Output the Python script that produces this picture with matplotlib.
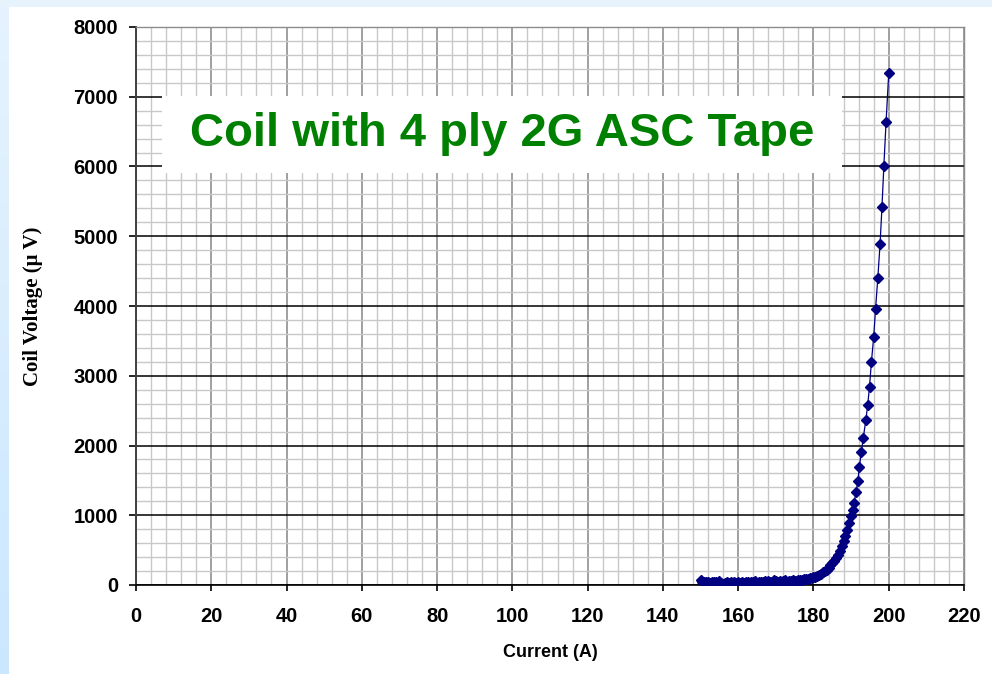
import matplotlib
matplotlib.use("Agg")
import matplotlib.pyplot as plt
import numpy as np
from matplotlib.patches import Rectangle
from matplotlib.ticker import MultipleLocator

# ── data (current in A, coil voltage in µV) ──
current = [
    150.0, 150.5, 151.0, 151.5, 152.0, 152.5, 153.0, 153.5, 154.0, 154.5,
    155.0, 155.5, 156.0, 156.5, 157.0, 157.5, 158.0, 158.5, 159.0, 159.5,
    160.0, 160.5, 161.0, 161.5, 162.0, 162.5, 163.0, 163.5, 164.0, 164.5,
    165.0, 165.5, 166.0, 166.5, 167.0, 167.5, 168.0, 168.5, 169.0, 169.5,
    170.0, 170.5, 171.0, 171.5, 172.0, 172.5, 173.0, 173.5, 174.0, 174.5,
    175.0, 175.5, 176.0, 176.5, 177.0, 177.5, 178.0, 178.5, 179.0, 179.5,
    180.0, 180.5, 181.0, 181.5, 182.0, 182.5, 183.0, 183.5, 184.0, 184.5,
    185.0, 185.5, 186.0, 186.5, 187.0, 187.5, 188.0, 188.5, 189.0, 189.5,
    190.0, 190.4, 190.8, 191.3, 191.8, 192.2, 192.7, 193.25, 193.9, 194.4,
    194.9, 195.4, 196.0, 196.5, 197.1, 197.7, 198.2, 198.7, 199.3, 200.0,
]
voltage = [
    65, 45, 50, 40, 45, 35, 45, 40, 50, 35,
    55, 30, 20, 35, 45, 25, 40, 30, 45, 35,
    40, 30, 45, 35, 50, 40, 35, 45, 40, 55,
    35, 50, 45, 40, 55, 45, 60, 50, 45, 70,
    55, 45, 60, 50, 55, 65, 50, 60, 55, 65,
    60, 55, 70, 65, 75, 80, 85, 90, 95, 100,
    110, 118, 128, 142, 160, 180, 200, 222, 250, 280,
    315, 350, 390, 435, 490, 560, 630, 700, 790, 890,
    990, 1070, 1180, 1330, 1490, 1690, 1900, 2110, 2360, 2575,
    2845, 3200, 3550, 3960, 4400, 4890, 5415, 6000, 6645, 7335,
]

x_ticks = list(range(0, 221, 20))
y_ticks = list(range(0, 8001, 1000))

title_text = "Coil with 4 ply 2G ASC Tape"
x_label = "Current (A)"
y_label = "Coil Voltage (\u03bc V)"

W, H = 992, 674
fig = plt.figure(figsize=(W / 100, H / 100), dpi=100)
fig.patch.set_facecolor("white")

# light blue slide border on the left and top
strip = fig.add_axes([0, 0, 9 / W, 1])
strip.imshow(np.linspace(0, 1, 100).reshape(-1, 1), aspect="auto",
             cmap=matplotlib.colors.LinearSegmentedColormap.from_list(
                 "edge", ["#e6f3fd", "#cbe7ff"]))
strip.axis("off")
fig.patches.append(Rectangle((0, 1 - 7 / H), 1, 7 / H, transform=fig.transFigure,
                             facecolor="#e6f3fd", edgecolor="none", zorder=-1))

ax = fig.add_axes([136 / W, 1 - 585 / H, 828 / W, 558 / H])

ax.plot(current, voltage, color="#000080", lw=0.9, marker="D",
        markersize=4.8, markerfacecolor="#000080", markeredgecolor="#000080",
        zorder=3)

ax.set_xlim(0, 220)
ax.set_ylim(0, 8000)
ax.set_xticks(x_ticks)
ax.set_yticks(y_ticks)
ax.xaxis.set_minor_locator(MultipleLocator(4))
ax.yaxis.set_minor_locator(MultipleLocator(200))

ax.set_axisbelow(True)
ax.grid(which="minor", color="#c8c8c8", lw=1.0)
ax.grid(which="major", axis="x", color="#a0a0a0", lw=1.4)
ax.grid(which="major", axis="y", color="#000000", lw=1.1)

for side in ("top", "right"):
    ax.spines[side].set_color("#8c8c8c")
    ax.spines[side].set_linewidth(1.0)
ax.spines["left"].set_color("#404040")
ax.spines["left"].set_linewidth(1.4)
ax.spines["bottom"].set_color("#000000")
ax.spines["bottom"].set_linewidth(1.2)

tick_font = {"family": "Liberation Sans", "weight": "bold", "size": 14.5}
ax.set_xticklabels([str(t) for t in x_ticks], fontdict=tick_font)
ax.set_yticklabels([str(t) for t in y_ticks], fontdict=tick_font)
ax.tick_params(axis="x", which="major", length=4, width=1.2, color="#000000", pad=12)
ax.tick_params(axis="y", which="major", length=5, width=1.2, color="#000000", pad=8)
ax.tick_params(which="minor", length=0)

ax.set_xlabel(x_label, family="Liberation Sans", weight="bold", fontsize=13,
              labelpad=13)
ax.set_ylabel(y_label, family="Liberation Serif", weight="bold", fontsize=15,
              labelpad=22)

# white box holding the chart title, hiding the grid beneath it
ax.add_patch(Rectangle((26 / 828, (585 - 173) / 558), 680 / 828, 77 / 558,
                       transform=ax.transAxes, facecolor="white",
                       edgecolor="none", zorder=2))
ax.text((502 - 136) / 828, (585 - 134) / 558, title_text,
        transform=ax.transAxes, ha="center", va="center", color="#008000",
        family="Liberation Sans", weight="bold", fontsize=34, zorder=4)

fig.savefig("out.png", dpi=100)
